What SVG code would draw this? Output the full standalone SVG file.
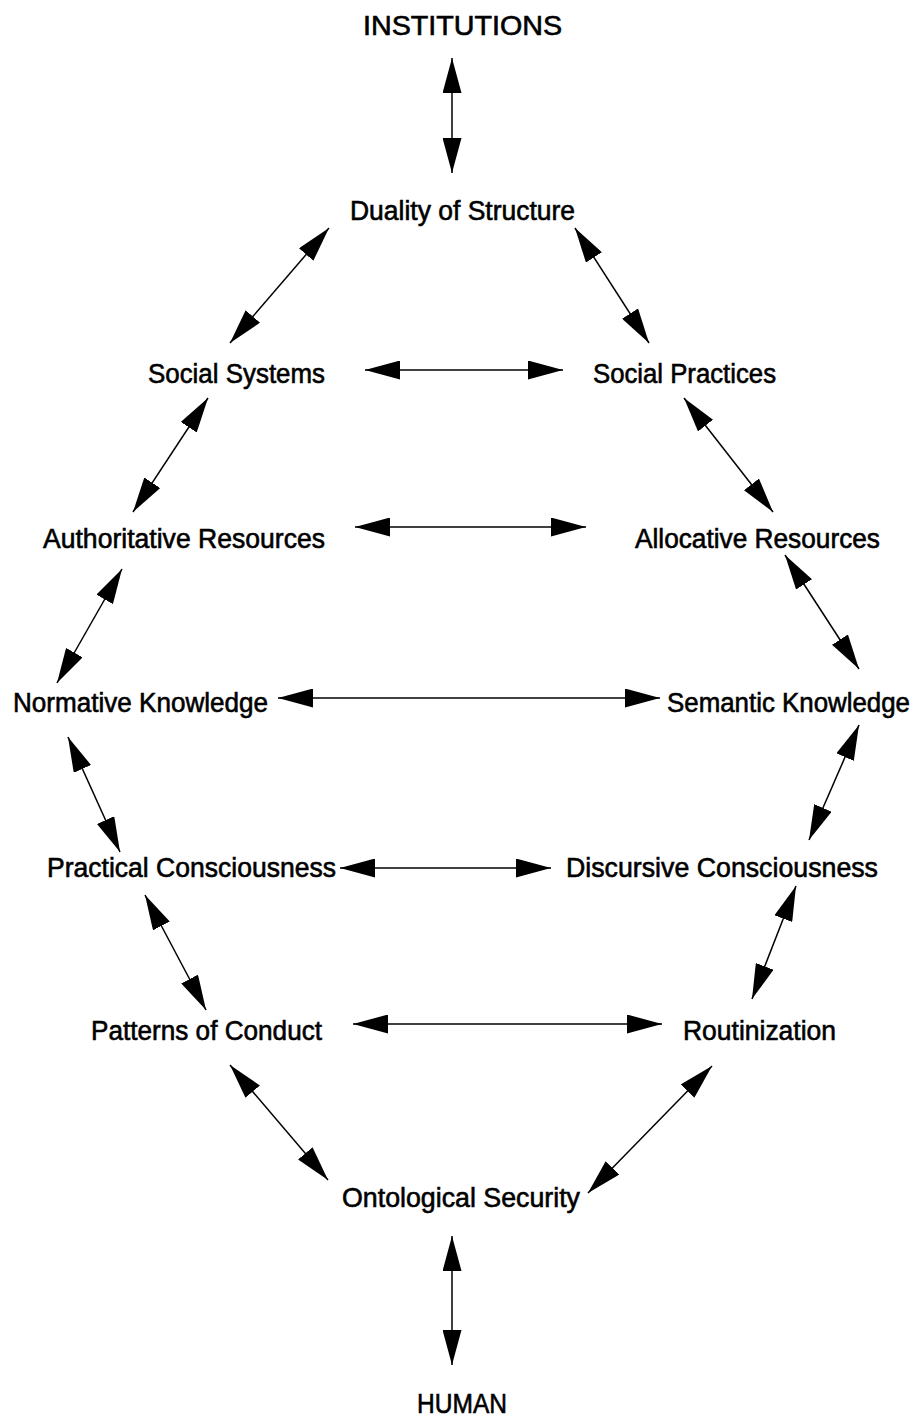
<svg xmlns="http://www.w3.org/2000/svg" width="919" height="1418" viewBox="0 0 919 1418">
<style>
text{font-family:"Liberation Sans",Arial,sans-serif;font-size:27px;fill:#000;stroke:#000;stroke-width:0.6}
.c line{stroke:#000;stroke-width:1.5;marker-start:url(#ah);marker-end:url(#ah)}
</style>
<defs>
<marker id="ah" viewBox="0 0 35 19" refX="35" refY="9.5" markerWidth="35" markerHeight="19" markerUnits="userSpaceOnUse" orient="auto-start-reverse">
<path d="M0,0 L35,9.5 L0,19 z" fill="#000"/>
</marker>
</defs>
<rect width="919" height="1418" fill="#fff"/>
<g id="institutions"><text x="363" y="35" textLength="199" lengthAdjust="spacingAndGlyphs">INSTITUTIONS</text></g>
<g id="duality"><text x="350" y="220" textLength="225" lengthAdjust="spacingAndGlyphs">Duality of Structure</text></g>
<g id="social-systems"><text x="148" y="383" textLength="177" lengthAdjust="spacingAndGlyphs">Social Systems</text></g>
<g id="social-practices"><text x="593" y="383" textLength="183" lengthAdjust="spacingAndGlyphs">Social Practices</text></g>
<g id="authoritative"><text x="43" y="548" textLength="282" lengthAdjust="spacingAndGlyphs">Authoritative Resources</text></g>
<g id="allocative"><text x="635" y="548" textLength="245" lengthAdjust="spacingAndGlyphs">Allocative Resources</text></g>
<g id="normative"><text x="13" y="712" textLength="255" lengthAdjust="spacingAndGlyphs">Normative Knowledge</text></g>
<g id="semantic"><text x="667" y="712" textLength="243" lengthAdjust="spacingAndGlyphs">Semantic Knowledge</text></g>
<g id="practical"><text x="47" y="877" textLength="289" lengthAdjust="spacingAndGlyphs">Practical Consciousness</text></g>
<g id="discursive"><text x="566" y="877" textLength="312" lengthAdjust="spacingAndGlyphs">Discursive Consciousness</text></g>
<g id="patterns"><text x="91" y="1040" textLength="231" lengthAdjust="spacingAndGlyphs">Patterns of Conduct</text></g>
<g id="routinization"><text x="683" y="1040" textLength="153" lengthAdjust="spacingAndGlyphs">Routinization</text></g>
<g id="ontological"><text x="342" y="1207" textLength="238" lengthAdjust="spacingAndGlyphs">Ontological Security</text></g>
<g id="human"><text x="417" y="1413" textLength="90" lengthAdjust="spacingAndGlyphs">HUMAN</text></g>
<g class="c" id="connectors">
<line x1="452" y1="58" x2="452" y2="173"/>
<line x1="329" y1="228" x2="230" y2="343"/>
<line x1="575" y1="228" x2="649" y2="343"/>
<line x1="365" y1="370" x2="563" y2="370"/>
<line x1="208" y1="398" x2="133" y2="512"/>
<line x1="684" y1="398" x2="773" y2="512"/>
<line x1="355" y1="527" x2="586" y2="527"/>
<line x1="122" y1="569" x2="57" y2="683"/>
<line x1="785" y1="555" x2="859" y2="669"/>
<line x1="278" y1="698" x2="660" y2="698"/>
<line x1="68" y1="737" x2="120" y2="852"/>
<line x1="859" y1="725" x2="809" y2="840"/>
<line x1="340" y1="868" x2="551" y2="868"/>
<line x1="145" y1="895" x2="206" y2="1010"/>
<line x1="796" y1="886" x2="752" y2="999"/>
<line x1="353" y1="1024" x2="662" y2="1024"/>
<line x1="230" y1="1065" x2="328" y2="1180"/>
<line x1="712" y1="1066" x2="588" y2="1193"/>
<line x1="452" y1="1236" x2="452" y2="1365"/>
</g>
</svg>
